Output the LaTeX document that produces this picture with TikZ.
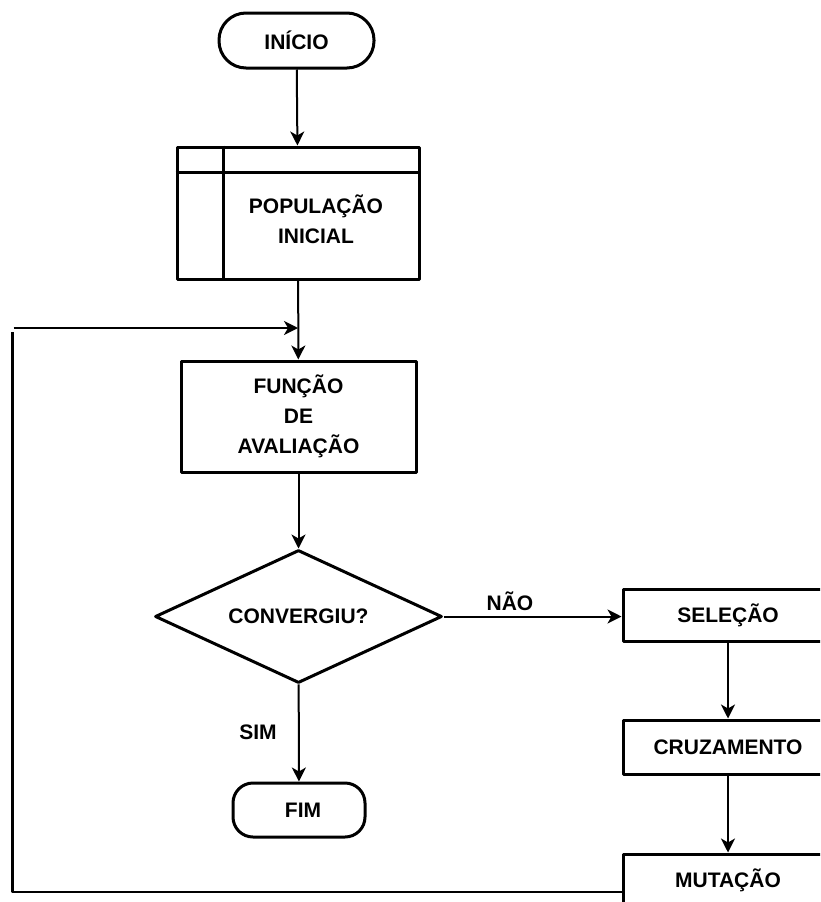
\documentclass[tikz,border=0pt]{standalone}
\usepackage{fontspec}
\setmainfont{Liberation Sans}
\usetikzlibrary{shapes.geometric,arrows.meta}
\begin{document}
\begin{tikzpicture}[x=1pt, y=-1pt, font=\fontsize{21}{30}\selectfont\bfseries, line join=round, >={Stealth[length=14pt,width=14pt,inset=4pt]},
	box/.style={draw, line width=3pt, inner sep=0pt, align=center},
	term/.style={box, rounded corners=#1},
	seta/.style={->, line width=2pt}]
	\useasboundingbox (0,0) rectangle (820,902);
	\clip (0,0) rectangle (820,902);
	% coluna principal
	\node[term=27pt, minimum width=155, minimum height=55] (ini) at (296.5,40.5) {INÍCIO};
	\node[box, minimum width=242, minimum height=132] (pop) at (298,213) {};
	\draw[line width=3pt] ([xshift=48pt]pop.north west) -- ([xshift=48pt]pop.south west);
	\draw[line width=3pt] ([yshift=-27pt]pop.north west) -- ([yshift=-27pt]pop.north east);
	\node[align=center] (popt) at (316,219) {POPULAÇÃO\\INICIAL};
	\node[box, minimum width=235, minimum height=111] (fun) at (298.5,416.5) {FUNÇÃO\\DE\\AVALIAÇÃO};
	\node[diamond, draw, line width=3pt, inner sep=0pt, aspect=2.16, minimum width=287, minimum height=133] (conv) at (298.5,616.5) {CONVERGIU?};
	\node[term=20pt, minimum width=132, minimum height=54] (fim) at (299,810) {\hspace{8pt}FIM};
	% coluna da direita
	\node[box, minimum width=210, minimum height=52] (sel) at (728,615) {SELEÇÃO};
	\node[box, minimum width=210, minimum height=54] (cruz) at (728,747) {CRUZAMENTO};
	\node[box, minimum width=210, minimum height=52] (mut) at (728,880) {MUTAÇÃO};
	\node (nao) at (510,601) {NÃO};
	\node (sim) at (258,732) {SIM};
	\draw[seta] (ini) -- (pop);
	\draw[seta] (pop) -- (fun);
	\draw[seta] (fun) -- (conv);
	\draw[seta] (conv.east) -- (conv.east -| sel.west);
	\draw[seta] (conv) -- (fim);
	\draw[seta] (sel) -- (cruz);
	\draw[seta] (cruz) -- (mut);
	% laco de volta
	\coordinate (bl) at (12.5,892);
	\coordinate (tl) at (12.5,332);
	\coordinate (tr) at (13.5,328);
	\draw[line width=2.5pt] (mut.west |- bl) -- (bl) -- (tl);
	\draw[seta] (tr) -- (tr -| pop.south);
\end{tikzpicture}
\end{document}
